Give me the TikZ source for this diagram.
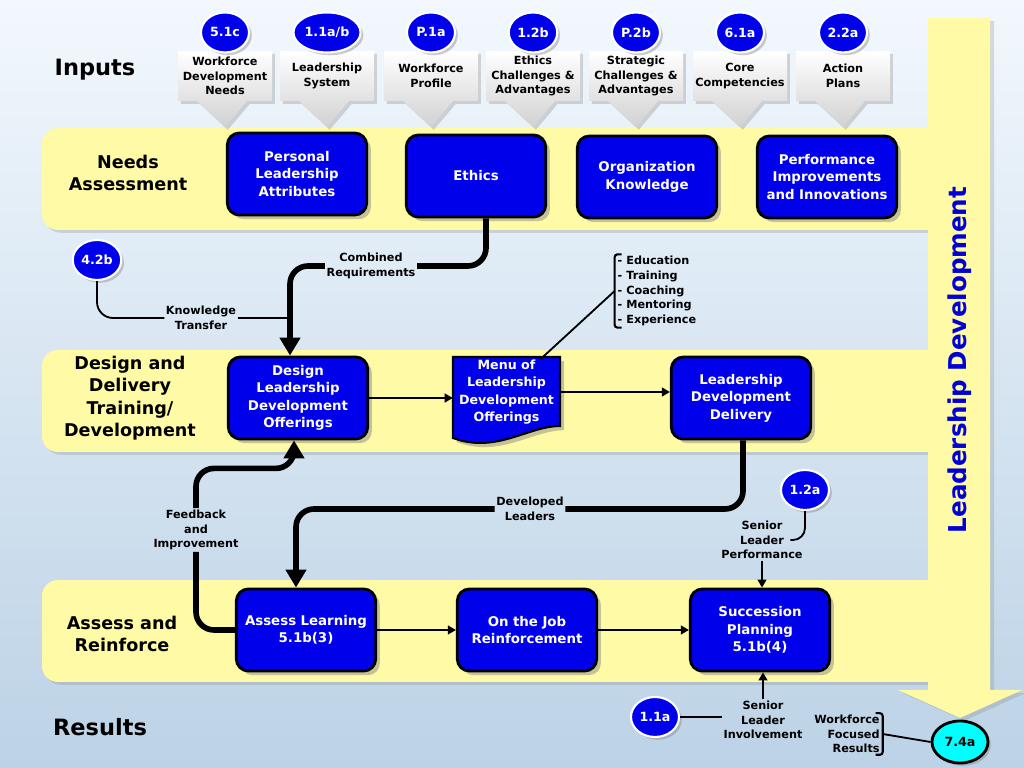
\documentclass[tikz,border=0pt]{standalone}
\usepackage{fontspec}
\setmainfont{DejaVu Sans}
\usetikzlibrary{positioning,shapes.geometric,shapes.callouts,shadows,arrows.meta}

\definecolor{laneyellow}{RGB}{255,250,165}
\definecolor{boxblue}{RGB}{0,0,235}
\definecolor{bandtext}{RGB}{0,0,215}
\definecolor{skytop}{RGB}{242,248,253}
\definecolor{skybottom}{RGB}{188,210,230}
\definecolor{tagcyan}{RGB}{0,255,255}

\tikzset{
  lane/.style={fill=laneyellow, rounded corners=0.4cm, drop shadow={opacity=0.25, shadow xshift=2pt, shadow yshift=-2pt}},
  procbox/.style={draw=black, line width=2pt, fill=boxblue, rounded corners=0.3cm, minimum width=3.33cm, minimum height=2.05cm, text width=3.25cm, align=center, text=white, font=\bfseries\fontsize{9.5}{12.5}\selectfont, drop shadow={opacity=0.45, shadow xshift=3pt, shadow yshift=-3pt}},
  inbox/.style={rectangle callout, callout relative pointer={(0,-0.65cm)}, callout pointer width=1.25cm, top color=white, bottom color=black!18, minimum width=2.35cm, minimum height=1.25cm, align=center, inner sep=1pt, font=\bfseries\fontsize{8}{10.5}\selectfont, drop shadow={opacity=0.3, shadow xshift=2pt, shadow yshift=-2pt}},
  badge/.style={ellipse, fill=boxblue, draw=white, line width=1.5pt, minimum width=1.2cm, minimum height=1.0cm, inner sep=1pt, text=white, font=\bfseries\fontsize{9}{10}\selectfont, drop shadow={opacity=0.4, shadow xshift=2pt, shadow yshift=-2pt}},
  lanelabel/.style={align=center, font=\bfseries\fontsize{12.5}{16}\selectfont},
  flowlabel/.style={align=center, inner sep=1pt, font=\bfseries\fontsize{8}{10.5}\selectfont},
  thickflow/.style={line width=4pt, rounded corners=0.45cm},
  thinflow/.style={line width=1.3pt},
  bigtip/.style={-{Triangle[length=0.45cm,width=0.5cm]}},
  smalltip/.style={-{Triangle[length=0.2cm,width=0.22cm]}},
}

\begin{document}
\begin{tikzpicture}
\useasboundingbox (0,0) rectangle (25.6,19.2);
\shade[top color=skytop, bottom color=skybottom] (0,0) rectangle (25.6,19.2);

% lanes and the side arrow
\fill[lane] (1.05,13.45) rectangle (23.6,16.0);
\fill[lane] (1.05,7.9) rectangle (23.6,10.45);
\fill[lane] (1.05,2.15) rectangle (23.6,4.7);
\fill[laneyellow, drop shadow={opacity=0.25, shadow xshift=3pt, shadow yshift=-2pt}] (23.2,18.75) -- (24.75,18.75) -- (24.75,1.95) -- (25.55,1.95) -- (24.0,1.25) -- (22.45,1.95) -- (23.2,1.95) -- cycle;
\node[rotate=90, text=bandtext, font=\bfseries\fontsize{17.5}{20}\selectfont] (bandlbl) at (24.0,10.2) {Leadership Development};

% lane titles
\node[font=\bfseries\fontsize{16}{18}\selectfont] (inputs) at (2.375,17.45) {Inputs};
\node[lanelabel] (needs) at (3.2,14.875) {Needs\\Assessment};
\node[lanelabel] (design) at (3.25,9.25) {Design and\\Delivery\\Training/\\Development};
\node[lanelabel] (assess) at (3.05,3.35) {Assess and\\Reinforce};
\node[font=\bfseries\fontsize{16}{18}\selectfont] (results) at (2.5,1.025) {Results};

% inputs
\node[inbox] (in1) at (5.625,17.3) {Workforce\\Development\\Needs};
\node[inbox] (in2) at (8.175,17.3) {Leadership\\System};
\node[inbox] (in3) at (10.775,17.3) {Workforce\\Profile};
\node[inbox] (in4) at (13.325,17.3) {Ethics\\Challenges \&\\Advantages};
\node[inbox] (in5) at (15.9,17.3) {Strategic\\Challenges \&\\Advantages};
\node[inbox] (in6) at (18.5,17.3) {Core\\Competencies};
\node[inbox] (in7) at (21.075,17.3) {Action\\Plans};
\node[badge, above=-2pt of in1] (t1) {5.1c};
\node[badge, above=-2pt of in2] (t2) {1.1a/b};
\node[badge, above=-2pt of in3] (t3) {P.1a};
\node[badge, above=-2pt of in4] (t4) {1.2b};
\node[badge, above=-2pt of in5] (t5) {P.2b};
\node[badge, above=-2pt of in6] (t6) {6.1a};
\node[badge, above=-2pt of in7] (t7) {2.2a};

% needs assessment
\node[procbox] (pla) at (7.425,14.85) {Personal\\Leadership\\Attributes};
\node[procbox] (eth) at (11.9,14.8) {Ethics};
\node[procbox] (ork) at (16.175,14.775) {Organization\\Knowledge};
\node[procbox] (pii) at (20.675,14.775) {Performance\\Improvements\\and Innovations};

% design and delivery
\node[procbox] (dldo) at (7.45,9.25) {Design\\Leadership\\Development\\Offerings};
\filldraw[fill=boxblue, draw=black, line width=1.5pt, drop shadow={opacity=0.45, shadow xshift=3pt, shadow yshift=-3pt}] (11.325,10.275) -- (14.0,10.275) -- (14.0,8.55) .. controls (13.2,8.55) and (12.4,7.85) .. (11.325,8.25) -- cycle;
\node[text=white, align=center, inner sep=0pt, minimum width=2.675cm, font=\bfseries\fontsize{9}{12.5}\selectfont] (menu) at (12.6625,9.4) {Menu of\\Leadership\\Development\\Offerings};
\node[procbox] (ldd) at (18.525,9.25) {Leadership\\Development\\Delivery};

% assess and reinforce
\node[procbox] (al) at (7.65,3.45) {Assess Learning\\5.1b(3)};
\node[procbox] (ojr) at (13.175,3.45) {On the Job\\Reinforcement};
\node[procbox] (sp) at (19.0,3.45) {Succession\\Planning\\5.1b(4)};

% references and labels
\node[badge] (c42b) at (2.425,12.7) {4.2b};
\node[badge] (c12a) at (20.125,6.95) {1.2a};
\node[badge] (c11a) at (16.375,1.275) {1.1a};
\node[badge, fill=tagcyan, draw=black, line width=2pt, text=black, minimum width=1.4cm, minimum height=1.05cm] (c74a) at (24.0,0.65) {7.4a};
\node[flowlabel] (creq) at (9.275,12.55) {Combined\\Requirements};
\node[flowlabel] (ktr) at (5.025,11.25) {Knowledge\\Transfer};
\node[flowlabel] (fbi) at (4.9,5.95) {Feedback\\and\\Improvement};
\node[flowlabel] (dlead) at (13.25,6.475) {Developed\\Leaders};
\node[flowlabel] (slp) at (19.05,5.7) {Senior\\Leader\\Performance};
\node[flowlabel] (sli) at (19.075,1.2) {Senior\\Leader\\Involvement};
\node[flowlabel, align=right] (wfr) at (21.175,0.85) {Workforce\\Focused\\Results};
\node[flowlabel, align=left] (lst) at (16.425,11.925) {- Education\\- Training\\- Coaching\\- Mentoring\\- Experience};

% flows
\coordinate (join) at ([xshift=-0.2cm]dldo.north);
\draw[thickflow] ([xshift=0.25cm]eth.south) |- (creq.east);
\draw[thickflow, bigtip] (creq.west) -| (join);
\draw[thinflow, rounded corners=0.4cm] (c42b.south) |- (ktr.west);
\draw[thinflow] (ktr.east) -- (ktr.east -| join);
\draw[thinflow, smalltip] (dldo.east) -- (dldo.east -| menu.west);
\draw[thinflow, smalltip] (menu.east) -- (menu.east -| ldd.west);
\draw[thinflow] ([xshift=0.85cm]menu.north) -- ([xshift=-1pt]lst.west);
\draw[line width=1.5pt, rounded corners=2pt] ([xshift=4pt]lst.north west) -- ([xshift=-1pt]lst.north west) -- ([xshift=-1pt]lst.south west) -- ([xshift=4pt]lst.south west);
\draw[thickflow] ([xshift=0.05cm]ldd.south) |- (dlead.east);
\draw[thickflow, bigtip] (dlead.west) -| ([xshift=-0.25cm]al.north);
\draw[thickflow] (al.west) -| (fbi.south);
\draw[thickflow, bigtip] (fbi.north) |- ([xshift=-0.1cm, yshift=-0.7cm]dldo.south) -- ([xshift=-0.1cm]dldo.south);
\draw[thinflow, smalltip] (al.east) -- (ojr.west);
\draw[thinflow, smalltip] (ojr.east) -- (sp.west);
\draw[thinflow, rounded corners=0.3cm] (c12a.south) |- ([xshift=-0.35cm]slp.east);
\draw[thinflow, smalltip] (slp.south) -- (slp.south |- sp.north);
\draw[thinflow, smalltip] (sli.north) -- (sli.north |- sp.south);
\draw[thinflow] (c11a.east) -- (c11a.east -| sli.west);
\draw[line width=1.5pt, rounded corners=2pt] ([xshift=-4pt]wfr.north east) -- ([xshift=1pt]wfr.north east) -- ([xshift=1pt]wfr.south east) -- ([xshift=-4pt]wfr.south east);
\draw[thinflow] ([xshift=1pt]wfr.east) -- (c74a.west);
\end{tikzpicture}
\end{document}
